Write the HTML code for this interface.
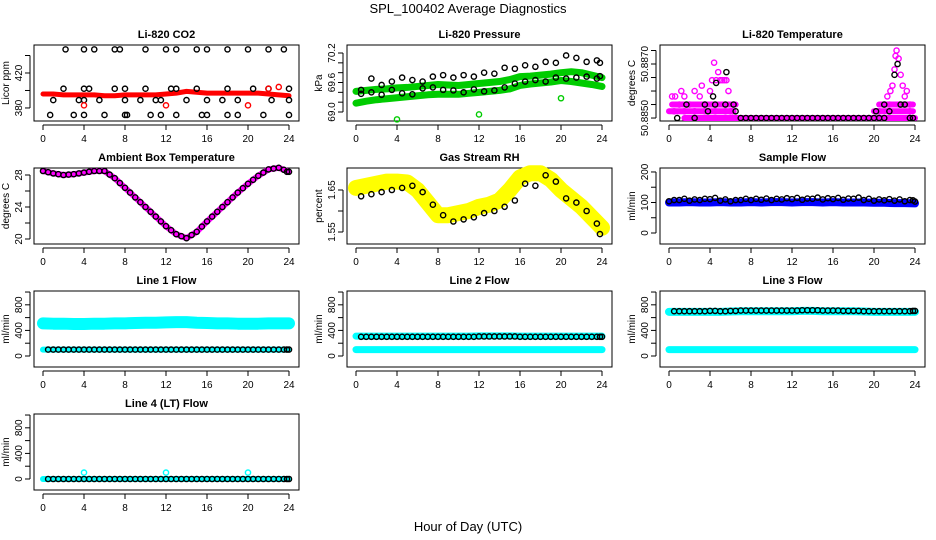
<!DOCTYPE html>
<html><head><meta charset="utf-8"><style>
html,body{margin:0;padding:0;background:#fff;}
svg{display:block;font-family:"Liberation Sans",sans-serif;}
</style></head><body>
<svg id="c" width="936" height="540" viewBox="0 0 936 540" xmlns="http://www.w3.org/2000/svg">
<rect width="936" height="540" fill="#fff"/>
<text x="468" y="13" text-anchor="middle" font-size="13">SPL_100402  Average Diagnostics</text>
<text x="468" y="531" text-anchor="middle" font-size="13">Hour of Day (UTC)</text>
</svg>
<script>
const hours=[0,1,2,3,4,5,6,7,8,9,10,11,12,13,14,15,16,17,18,19,20,21,22,23,24];
const xTicks=[0,4,8,12,16,20,24];
// CO2
const co2RedBand=[396,396,395,395,395,395,394,394,395,395,395,395,396,397,399,398,397,397,397,397,397,397,396,395,394];
const co2BlackH=[2.2,4,5,7,7.5,10,12,13,15,16,18,20,22,23.5,2,4,4.5,7,8,10,12.5,13,15,18,20.5,22,24,1,3.5,4,5.5,8,9.5,11,11.5,14,16,17.5,19,22.3,24,0.7,3,4,6,8,8.2,10.5,11.5,13,15.5,16,18,19,21.5,24];
const co2BlackV=[447,447,447,447,447,447,447,447,447,447,447,447,447,447,402,402,402,402,402,402,402,402,402,402,402,402,402,389,389,389,389,389,389,389,389,389,389,389,389,389,389,372,372,372,372,372,372,372,372,372,372,372,372,372,372,372];
const co2RedH=[4,12,20,22,23];
const co2RedV=[383,383,383,402,404];
// Pressure
const presGreenUpper=[69.42,69.44,69.46,69.47,69.49,69.50,69.52,69.54,69.56,69.55,69.54,69.56,69.58,69.60,69.62,69.66,69.72,69.73,69.75,69.77,69.80,69.82,69.80,69.75,69.70];
const presGreenLower=[69.18,69.22,69.25,69.27,69.29,69.31,69.33,69.35,69.36,69.36,69.36,69.38,69.40,69.42,69.44,69.47,69.54,69.57,69.59,69.61,69.64,69.62,69.59,69.56,69.52];
const presBlack=[69.45,69.68,69.55,69.62,69.70,69.65,69.62,69.72,69.75,69.70,69.75,69.72,69.80,69.78,69.90,69.88,69.95,69.92,70.02,70.00,70.15,70.10,70.02,70.05,70.00];
const presBlack2=[69.37,69.40,69.35,69.45,69.38,69.36,69.48,69.50,69.45,69.44,69.40,69.46,69.42,69.44,69.50,69.58,69.62,69.65,69.62,69.70,69.68,69.70,69.72,69.68,69.73];
const presGreenH=[4,12,20];
const presGreenV=[68.85,68.95,69.28];
// Temperature
const tempPinkH=[0.3,0.6,1,1.2,1.5,2,2.5,3,3.2,3.5,4,4.2,4.4,4.6,4.8,5,5.2,5.4,5.6,5.8,6,0.5,1.5,2.5,3.5,4.5,5.5,6.2,21,21.3,21.6,21.8,22,22.1,22.2,22.4,22.6,22.8,23,23.2,23.5,21.5,22.5,23.5,20.5];
const tempPinkV=[50.8858,50.8858,50.8855,50.8860,50.8858,50.8855,50.8860,50.8858,50.8862,50.8855,50.8860,50.8864,50.88705,50.8864,50.8867,50.8864,50.8864,50.8864,50.8864,50.8860,50.88525,50.88525,50.88525,50.88525,50.88525,50.88525,50.88525,50.88525,50.8855,50.8858,50.8860,50.8862,50.8868,50.8873,50.8875,50.8872,50.8866,50.8862,50.8858,50.8860,50.88525,50.8855,50.8855,50.8855,50.88525];
const tempBandLevel=[50.8855,50.88525,50.8850];
const tempBandStart=[0.3,0,1.5];
const tempBandEnd=[6.5,6.3,24];
const tempBlackH=[0.8,2.5,1.7,3.5,4.5,5.5,6.3,6.5,3.8,4.3,4.6,5.6,7,7.5,8,8.5,9,9.5,10,10.5,11,11.5,12,12.5,13,13.5,14,14.5,15,15.5,16,16.5,17,17.5,18,18.5,19,19.5,20,20.5,21,21.5,22,22.3,22.6,23,23.5,23.8,20.2,21];
const tempBlackV=[50.8850,50.8850,50.8855,50.8855,50.8855,50.8855,50.8855,50.88525,50.88525,50.8858,50.8863,50.8867,50.8850,50.8850,50.8850,50.8850,50.8850,50.8850,50.8850,50.8850,50.8850,50.8850,50.8850,50.8850,50.8850,50.8850,50.8850,50.8850,50.8850,50.8850,50.8850,50.8850,50.8850,50.8850,50.8850,50.8850,50.8850,50.8850,50.8850,50.8850,50.8850,50.88525,50.8866,50.8870,50.8855,50.8855,50.8850,50.8850,50.88525,50.8855];
// Ambient
const ambient=[28.5,28.2,28.0,28.1,28.3,28.5,28.5,27.6,26.4,25.2,24.0,22.8,21.6,20.6,20.1,20.9,22.2,23.4,24.6,25.8,26.9,27.9,28.7,28.9,28.4];
// RH
const rhYellow=[1.655,1.660,1.665,1.670,1.670,1.668,1.650,1.620,1.590,1.590,1.595,1.600,1.610,1.615,1.625,1.650,1.680,1.690,1.690,1.675,1.650,1.630,1.610,1.585,1.560];
const rhBlack=[1.635,1.640,1.645,1.650,1.655,1.660,1.645,1.615,1.590,1.575,1.580,1.585,1.595,1.600,1.610,1.625,1.665,1.660,1.685,1.670,1.630,1.620,1.600,1.570,1.545];
// Sample flow
const sampleBlue=[100,100,101,100,100,101,100,100,101,100,101,101,100,101,101,100,101,100,100,100,99,99,98,98,97];
const sampleBlack=[108,112,110,112,115,110,108,112,112,113,112,114,115,113,116,114,115,113,116,112,110,111,110,108,107];
// Line flows
const line1Cyan=[510,505,505,500,500,505,505,510,510,515,520,520,525,530,530,520,515,510,510,505,505,505,510,510,510];
const line1Black=[100,100,100,100,100,100,100,100,100,100,100,100,100,100,100,100,100,100,100,100,100,100,100,100,100];
const line2Cyan=[310,310,310,310,310,310,310,310,310,310,310,310,315,315,315,315,310,310,310,310,310,310,310,310,310];
const line2Black=[300,300,300,300,300,300,300,300,300,300,300,300,305,305,305,305,300,300,300,300,300,300,300,300,300];
const line2Low=[100,100,100,100,100,100,100,100,100,100,100,100,100,100,100,100,100,100,100,100,100,100,100,100,100];
const line3Cyan=[690,690,690,690,690,690,695,700,700,700,700,700,700,705,705,700,700,700,700,695,690,690,690,690,690];
const line3Black=[700,700,700,700,705,700,705,710,710,710,710,710,710,715,715,710,710,705,705,700,700,700,700,700,705];
const line3Low=[100,100,100,100,100,100,100,100,100,100,100,100,100,100,100,100,100,100,100,100,100,100,100,100,100];
const line4Black=[0,0,0,0,0,0,0,0,0,0,0,0,0,0,0,0,0,0,0,0,0,0,0,0,0];
const line4SpikeH=[4,12,20];
const line4SpikeV=[100,100,100];

const svg=document.getElementById('c');
const NS='http://www.w3.org/2000/svg';
function mk(tag,attrs,parent){const e=document.createElementNS(NS,tag);for(const k in attrs)e.setAttribute(k,attrs[k]);(parent||svg).appendChild(e);return e;}

function panel(name,col,row,title,ylab,ymin,ymax,yticks,ylabels){
  const L=34+col*313, T=45+row*123, W=265, H=76;
  const g=mk('g',{});
  
  
  const sx=h=>L+9+h*10.25;
  const sy=v=>T+H-(v-ymin)/(ymax-ymin)*H;
  const box=mk('rect',{x:L,y:T,width:W,height:H,fill:'none',stroke:'#000','stroke-width':1},g);
  
  
  const t=mk('text',{x:L+W/2,y:T-7,'text-anchor':'middle','font-size':11,'font-weight':'bold'},g);
  t.textContent=title;
  
  
  const xa=mk('g',{},g);
  
  
  mk('line',{x1:sx(0),x2:sx(24),y1:T+H+4,y2:T+H+4,stroke:'#000'},xa);
  xTicks.forEach(v=>{
    mk('line',{x1:sx(v),x2:sx(v),y1:T+H+4,y2:T+H+9,stroke:'#000'},xa);
    const tx=mk('text',{x:sx(v),y:T+H+21,'text-anchor':'middle','font-size':10},xa);
    tx.textContent=v;
  });
  const ya=mk('g',{},g);
  
  
  mk('line',{x1:L-4,x2:L-4,y1:sy(yticks[0]),y2:sy(yticks[yticks.length-1]),stroke:'#000'},ya);
  yticks.forEach((v,i)=>{
    mk('line',{x1:L-4,x2:L-9,y1:sy(v),y2:sy(v),stroke:'#000'},ya);
    if(ylabels[i]){
      const tx=mk('text',{x:L-12,y:sy(v),'text-anchor':'middle','font-size':10,transform:`rotate(-90 ${L-12} ${sy(v)})`},ya);
      tx.textContent=ylabels[i];
    }
  });
  const yl=mk('text',{x:L-25,y:T+H/2,'text-anchor':'middle','font-size':10,transform:`rotate(-90 ${L-25} ${T+H/2})`},g);
  yl.textContent=ylab;
  
  
  const clip=mk('g',{},g);
  return {g:clip,sx,sy};
}
function band(p,hs,vs,color,w,nm){
  const pts=hs.map((h,i)=>p.sx(h)+','+p.sy(vs[i])).join(' ');
  const e=mk('polyline',{points:pts,fill:'none',stroke:color,'stroke-width':w,'stroke-linejoin':'round','stroke-linecap':'round'},p.g);
  
  
}
function pts(p,hs,vs,color,nm){
  const g=mk('g',{},p.g);
  
  
  hs.forEach((h,i)=>{mk('circle',{cx:p.sx(h),cy:p.sy(vs[i]),r:2.6,fill:'none',stroke:color,'stroke-width':1.4},g);});
}
function hband(p,lvl,a,b,color,w,nm){
  const e=mk('line',{x1:p.sx(a),x2:p.sx(b),y1:p.sy(lvl),y2:p.sy(lvl),stroke:color,'stroke-width':w,'stroke-linecap':'round'},p.g);
  
  
}
const hhalf=hours.map(h=>Math.min(h+0.5,23.8));

// CO2
let p=panel('co2',0,0,'Li-820 CO2','Licor ppm',365.1,452,[380,400,420,440],['380','','420','']);
band(p,hours,co2RedBand,'#ff0000',5,'co2-red-series');
pts(p,co2BlackH,co2BlackV,'#000','co2-black-points');
pts(p,co2RedH,co2RedV,'#ff0000','co2-red-outliers');
// Pressure
p=panel('pressure',1,0,'Li-820 Pressure','kPa',68.817,70.363,[69.0,69.2,69.4,69.6,69.8,70.0,70.2],['69.0','','','69.6','','','70.2']);
band(p,hours,presGreenUpper,'#00cc00',7,'pressure-green-upper');
band(p,hours,presGreenLower,'#00cc00',7,'pressure-green-lower');
pts(p,hhalf,presBlack,'#000','pressure-black-points');
pts(p,hhalf,presBlack2,'#000','pressure-black-points-low');
pts(p,presGreenH,presGreenV,'#00cc00','pressure-green-outliers');
// Temperature
p=panel('temperature',2,0,'Li-820 Temperature','degrees C',50.88489,50.887704,[50.8850,50.8855,50.8860,50.8865,50.8870,50.8875],['50.8850','','','','50.8870','']);
tempBandLevel.forEach((l,i)=>hband(p,l,tempBandStart[i],tempBandEnd[i],'#ff00ff',6,'temperature-pink-band'));
hband(p,50.88525,20,23.8,'#ff00ff',6,'temperature-pink-band-late');
hband(p,50.8855,20.5,23.8,'#ff00ff',6,'temperature-pink-band-late2');
pts(p,tempPinkH,tempPinkV,'#ff00ff','temperature-pink-points');
pts(p,tempBlackH,tempBlackV,'#000','temperature-black-points');
// Ambient
p=panel('ambient',0,1,'Ambient Box Temperature','degrees C',19.375,28.875,[20,22,24,26,28],['20','','24','','28']);
band(p,hours,ambient,'#ff00ff',6,'ambient-pink-series');
pts(p,hours,ambient,'#000','ambient-black-points');
pts(p,hhalf,ambient.map((v,i)=>(v+ambient[Math.min(i+1,24)])/2),'#000','ambient-black-points-half');
// RH
p=panel('rh',1,1,'Gas Stream RH','percent',1.5214,1.7024,[1.55,1.60,1.65],['1.55','','1.65']);
band(p,hours,rhYellow,'#ffff00',16,'rh-yellow-series');
pts(p,hhalf,rhBlack,'#000','rh-black-points');
// Sample flow
p=panel('sample-flow',2,1,'Sample Flow','ml/min',-36,213,[0,50,100,150,200],['0','','100','','200']);
band(p,hours,sampleBlue,'#0000ff',8,'sample-flow-blue-series');
pts(p,hhalf,sampleBlack,'#000','sample-flow-black-points');
pts(p,hours,sampleBlack.map(v=>v-4),'#000','sample-flow-black-points-2');
// Line flows
const fT=[0,200,400,600,800,1000], fL=['0','','400','','800',''];
p=panel('line1-flow',0,2,'Line 1 Flow','ml/min',-172,1016,fT,fL);
band(p,hours,line1Cyan,'#00ffff',12,'line1-cyan-series');
band(p,hours,line1Black,'#00ffff',6,'line1-cyan-low');
pts(p,hhalf,line1Black,'#000','line1-black-points');
pts(p,hours.slice(1),line1Black.slice(1),'#000','line1-black-points-2');
p=panel('line2-flow',1,2,'Line 2 Flow','ml/min',-172,1016,fT,fL);
band(p,hours,line2Cyan,'#00ffff',7,'line2-cyan-series');
band(p,hours,line2Low,'#00ffff',7,'line2-cyan-low');
pts(p,hhalf,line2Black,'#000','line2-black-points');
pts(p,hours.slice(1),line2Black.slice(1),'#000','line2-black-points-2');
p=panel('line3-flow',2,2,'Line 3 Flow','ml/min',-172,1016,fT,fL);
band(p,hours,line3Cyan,'#00ffff',8,'line3-cyan-series');
band(p,hours,line3Low,'#00ffff',7,'line3-cyan-low');
pts(p,hhalf,line3Black,'#000','line3-black-points');
pts(p,hours.slice(1),line3Black.slice(1),'#000','line3-black-points-2');
p=panel('line4-flow',0,3,'Line 4 (LT) Flow','ml/min',-172,1016,fT,fL);
band(p,hours,line4Black,'#00ffff',6,'line4-cyan-series');
pts(p,hhalf,line4Black,'#000','line4-black-points');
pts(p,hours.slice(1),line4Black.slice(1),'#000','line4-black-points-2');
pts(p,line4SpikeH,line4SpikeV,'#00ffff','line4-cyan-spikes');
</script>
</body></html>
